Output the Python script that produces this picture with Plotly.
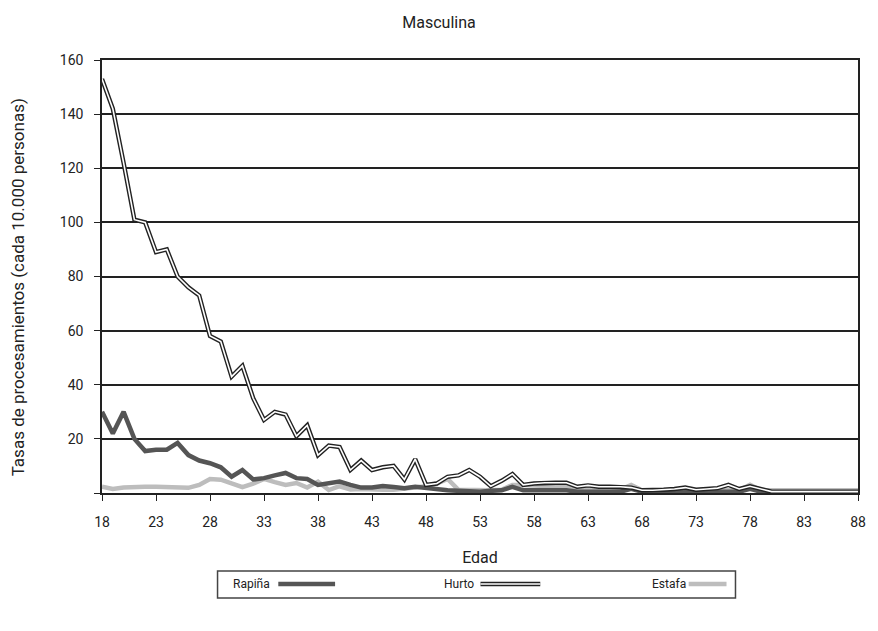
import plotly.graph_objects as go

ages = list(range(18, 89))

hurto = [153, 142, 122, 101, 100, 89, 90, 80, 76, 73,
         58, 56, 43, 47, 35, 27, 30, 29, 21, 25,
         14, 17.5, 17, 8.5, 12, 8.5, 9.5, 10, 5, 12.5,
         3, 3.5, 6, 6.5, 8.5, 6, 2.5, 4.5, 7, 3,
         3.5, 3.8, 3.8, 3.8, 2.3, 2.8, 2.3, 2.3, 2.3, 2,
         1, 1, 1.2, 1.5, 2, 1.2, 1.5, 1.8, 3, 1.5,
         2.5, 1.5, 0.5, 0.5, 0.5, 0.5, 0.5, 0.5, 0.5, 0.5, 0.5]

rapina = [30, 22, 30, 20, 15.5, 16, 16, 18.5, 14, 12,
          11, 9.5, 6, 8.5, 5, 5.5, 6.5, 7.4, 5.5, 5.2,
          3, 3.5, 4.2, 3, 2, 2, 2.6, 2.2, 1.8, 2.3,
          1.8, 1.5, 1, 0.8, 0.5, 0.5, 0.8, 1, 2.3, 1,
          1, 1, 1, 1, 0.5, 0.5, 0.5, 0.5, 0.5, 1.5,
          0.5, 0.5, 0.5, 0.5, 0.5, 0.5, 0.5, 0.5, 0.5, 0.5,
          1.5, 0.5, 0.3, 0.3, 0.3, 0.3, 0.3, 0.3, 0.3, 0.3, 0.3]

estafa = [2.3, 1.5, 2, 2.3, 2.3, 2.3, 2.3, 1.9, 1.9, 3,
          5.2, 4.9, 3.5, 2.2, 3.5, 5.2, 4, 3, 3.7, 2,
          4.2, 1.1, 2.5, 1.3, 1.5, 1.2, 1.2, 1.2, 1.5, 1.8,
          2.5, 3.5, 5.2, 1.2, 1, 1, 1, 1.2, 3, 3,
          2.8, 2.5, 2.5, 2.2, 1.5, 1.5, 1.5, 1.3, 1.3, 3,
          1, 1, 1, 1, 1, 1, 1, 1, 1, 1,
          3, 1, 1, 1, 1, 1, 1, 1, 1, 1, 1]

x_ticks = list(range(18, 89, 5))
y_ticks = list(range(0, 161, 20))
y_ticktext = ["" if v == 0 else str(v) for v in y_ticks]

C_RAP = "#555555"
C_HUR = "#222222"
C_EST = "#bdbdbd"
FONT = "Roboto"

fig = go.Figure()
fig.add_trace(go.Scatter(x=ages, y=estafa, mode="lines", name="Estafa",
                         line=dict(color=C_EST, width=4.5), showlegend=False))
fig.add_trace(go.Scatter(x=ages, y=rapina, mode="lines", name="Rapiña",
                         line=dict(color=C_RAP, width=4.5), showlegend=False))
fig.add_trace(go.Scatter(x=ages, y=hurto, mode="lines", name="Hurto",
                         line=dict(color=C_HUR, width=4.4), showlegend=False))
fig.add_trace(go.Scatter(x=ages, y=hurto, mode="lines", name="Hurto",
                         line=dict(color="white", width=1.6), showlegend=False,
                         hoverinfo="skip"))

W, H = 878, 631
L, R, T, B = 102, 17, 60, 138
pw, ph = W - L - R, H - T - B


def px(xp):
    return (xp - L) / pw


def py(yp):
    return (H - B - yp) / ph


shapes = []
annotations = []
# y axis title
annotations.append(dict(text="Tasas de procesamientos (cada 10.000 personas)",
                        xref="paper", yref="paper", x=px(18), y=py(287),
                        xanchor="center", yanchor="middle", textangle=-90,
                        showarrow=False, font=dict(size=17, family=FONT, color="#222222")))
# legend box
shapes.append(dict(type="rect", xref="paper", yref="paper",
                   x0=px(218), x1=px(738), y0=py(598), y1=py(571),
                   line=dict(color="#444444", width=1.5), fillcolor="white"))
ly = 584
items = [("Rapiña", 232, 279, 336, [(C_RAP, 4.5)]),
         ("Hurto", 443, 482, 542, [(C_HUR, 4.4), ("white", 1.6)]),
         ("Estafa", 652, 691, 729, [(C_EST, 4.5)])]
for name, tx, sx0, sx1, styles in items:
    annotations.append(dict(text=name, xref="paper", yref="paper",
                            x=px(tx), y=py(ly), xanchor="left", yanchor="middle",
                            showarrow=False, font=dict(size=12, color="#222222", family=FONT)))
    for col, wd in styles:
        shapes.append(dict(type="line", xref="paper", yref="paper",
                           x0=px(sx0), x1=px(sx1), y0=py(ly), y1=py(ly),
                           line=dict(color=col, width=wd)))

fig.update_layout(
    width=W, height=H,
    margin=dict(l=L, r=R, t=T, b=B),
    paper_bgcolor="white", plot_bgcolor="white",
    font=dict(family=FONT, color="#222222", size=14),
    title=dict(text="Masculina", x=0.5, xanchor="center", y=1 - 22 / H, yanchor="middle",
               font=dict(size=16, family=FONT, color="#222222")),
    shapes=shapes, annotations=annotations,
    showlegend=False,
)
fig.update_xaxes(range=[18, 88], tickvals=x_ticks, ticks="outside", ticklen=6,
                 tickcolor="#222222", showline=True, linecolor="#222222", linewidth=1.5,
                 mirror=True, showgrid=False, zeroline=False, ticklabelstandoff=9,
                 title=dict(text="Edad", font=dict(size=16, family=FONT), standoff=23),
                 tickfont=dict(size=14))
fig.update_yaxes(range=[0, 160], tickvals=y_ticks, ticktext=y_ticktext, ticks="outside",
                 ticklen=6, tickcolor="#222222", showline=True, linecolor="#222222",
                 linewidth=1.5, mirror=True, showgrid=True, gridcolor="#222222",
                 gridwidth=1.5, zeroline=False, ticklabelstandoff=8,
                 tickfont=dict(size=14))

fig.write_html("out.html", config={"displayModeBar": False},
               post_script="document.body.style.margin='0px';")
